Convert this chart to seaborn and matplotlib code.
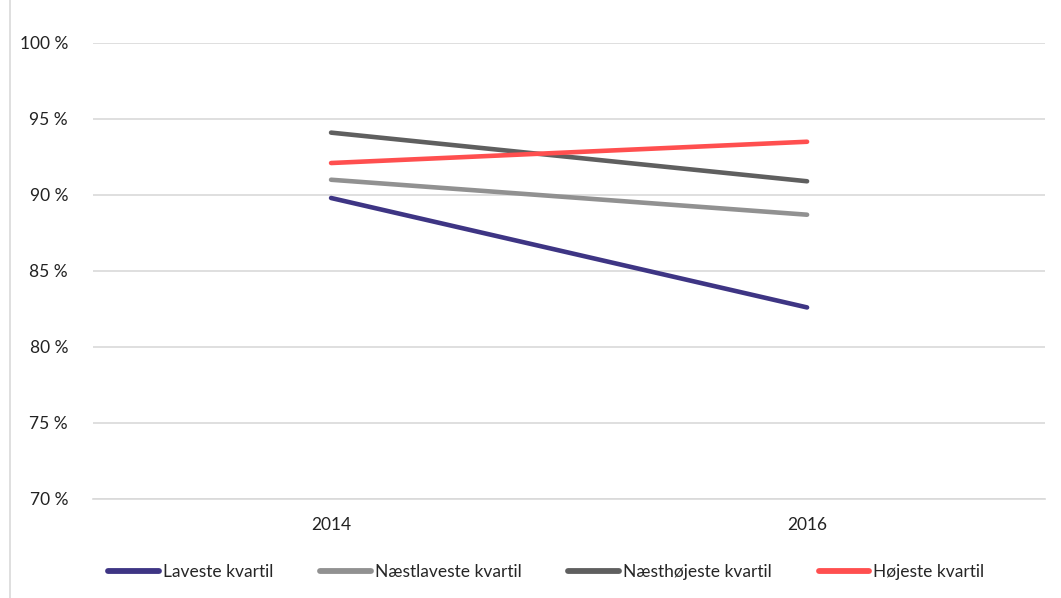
import matplotlib
matplotlib.use('Agg')
import matplotlib.pyplot as plt
import matplotlib.ticker as mticker
import numpy as np
import pandas as pd
import seaborn as sns

years = ['2014', '2016']
series_names = ['Laveste kvartil', 'Næstlaveste kvartil', 'Næsthøjeste kvartil', 'Højeste kvartil']
laveste = [89.8, 82.6]
naestlaveste = [91.0, 88.7]
naesthojeste = [94.1, 90.9]
hojeste = [92.1, 93.5]
colors = ['#3e3584', '#919191', '#5f5f5f', '#ff4f4f']
y_ticks = [70, 75, 80, 85, 90, 95, 100]

sns.set_style('white')
plt.rcParams['font.family'] = ['Lato', 'DejaVu Sans']

rows = []
for name, vals in zip(series_names, [laveste, naestlaveste, naesthojeste, hojeste]):
    for i, v in enumerate(vals):
        rows.append({'pos': i, 'year': years[i], 'serie': name, 'value': v})
df = pd.DataFrame(rows)

fig = plt.figure(figsize=(10.61, 5.98), dpi=100)
ax = fig.add_axes([0.0877, 0.1656, 0.8973, 0.7626])

sns.lineplot(data=df, x='pos', y='value', hue='serie', hue_order=series_names,
             palette=colors, linewidth=3.3, solid_capstyle='round', ax=ax, legend=True)

ax.set_xlim(-0.5, 1.5)
ax.set_ylim(70, 100)
ax.set_yticks(y_ticks)
ax.yaxis.set_major_formatter(mticker.FuncFormatter(lambda v, p: '{:d} %'.format(int(v))))
ax.set_xticks([0, 1])
ax.set_xticklabels(years)
ax.set_xticks([-0.5, 0.5, 1.5], minor=True)
ax.tick_params(axis='x', which='major', length=0, pad=13, labelsize=12.5, colors='#222222')
ax.tick_params(axis='x', which='minor', length=6, color='#d9d9d9', width=1.2, direction='out')
ax.tick_params(axis='y', length=0, pad=18, labelsize=12.5, colors='#222222')
ax.grid(axis='y', color='#d9d9d9', linewidth=1.2)
ax.set_axisbelow(True)
ax.set_xlabel('')
ax.set_ylabel('')
for side in ['top', 'right', 'left']:
    ax.spines[side].set_visible(False)
ax.spines['bottom'].set_color('#d9d9d9')
ax.spines['bottom'].set_linewidth(1.2)

handles, labels = ax.get_legend_handles_labels()
ax.get_legend().remove()
for h in handles:
    h.set_linewidth(4.2)
fig.legend(handles, labels, loc='center', bbox_to_anchor=(0.515, 0.043), ncol=4, frameon=False,
           fontsize=12.5, handlelength=2.9, handletextpad=0.25, columnspacing=2.7)

# left frame line of the chart area
fig.add_artist(plt.Line2D([0.0095, 0.0095], [0, 1], color='#d9d9d9', linewidth=1.2, transform=fig.transFigure))

fig.savefig('out.png', dpi=100)
